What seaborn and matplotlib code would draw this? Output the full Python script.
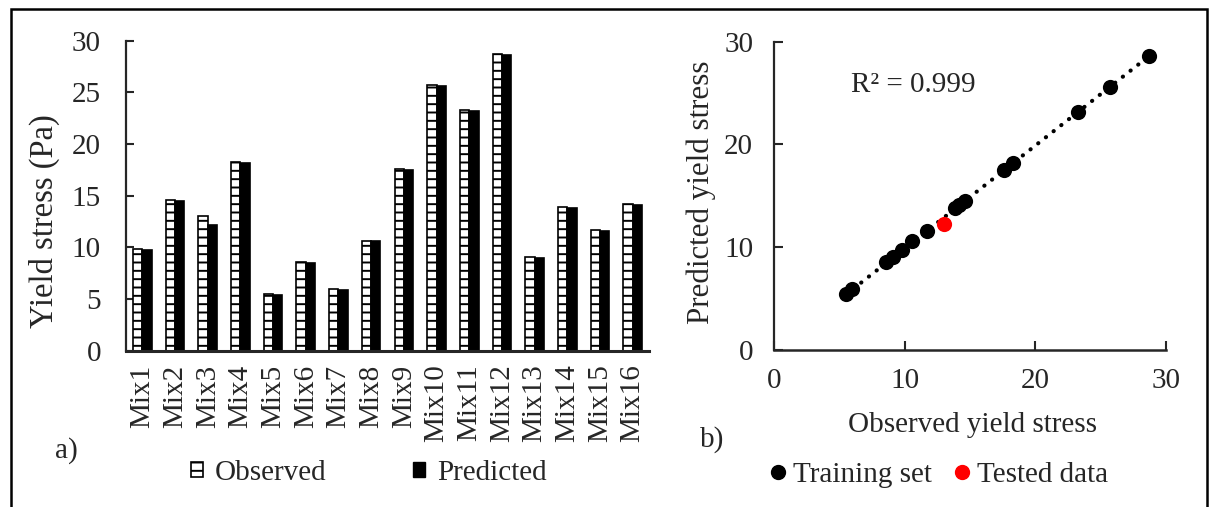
import numpy as np
import pandas as pd
import matplotlib
matplotlib.use("Agg")
import matplotlib.pyplot as plt
from matplotlib.patches import Patch, Rectangle
from matplotlib.lines import Line2D
import seaborn as sns

# ---- data ----
mixes = [f"Mix{i}" for i in range(1, 17)]
observed = [9.8, 14.6, 13.0, 18.3, 5.5, 8.6, 6.0, 10.6, 17.6, 25.7, 23.3, 28.7, 9.1, 13.9, 11.7, 14.2]
predicted = [9.7, 14.5, 12.2, 18.2, 5.4, 8.5, 5.9, 10.6, 17.5, 25.6, 23.2, 28.6, 9.0, 13.8, 11.6, 14.1]
tested_mix = "Mix3"
y_ticks = [0, 5, 10, 15, 20, 25, 30]
sc_ticks = [0, 10, 20, 30]
r2_text = "R² = 0.999"

sns.set_style("ticks")
plt.rcParams["font.family"] = ["Liberation Serif", "DejaVu Serif"]
plt.rcParams["hatch.linewidth"] = 1.4
FS = 21

fig = plt.figure(figsize=(12.09, 5.07), dpi=100)
W, H = 1209, 507

def axrect(l, t, r, b):
    return [l / W, 1 - b / H, (r - l) / W, (b - t) / H]

# ---- bar chart ----
ax1 = fig.add_axes(axrect(126, 40.7, 649, 350.7))
df = pd.DataFrame({
    "Mix": mixes * 2,
    "Type": ["Observed"] * 16 + ["Predicted"] * 16,
    "value": observed + predicted,
})
sns.barplot(data=df, x="Mix", y="value", hue="Type", palette=["white", "black"],
            edgecolor="black", linewidth=1.2, width=0.57, ax=ax1, legend=False)
for p in ax1.containers[0]:
    p.set_hatch("--")
ax1.set_ylim(0, 30)
ax1.set_xlim(-0.5, 15.5)
ax1.set_yticks(y_ticks)
ax1.set_xlabel("")
ax1.set_ylabel("Yield stress (Pa)", fontsize=23.5)
ax1.yaxis.set_label_coords(-0.126, 0.418)
ax1.tick_params(axis="y", direction="in", length=6, width=1.5, pad=18, labelsize=FS)
ax1.tick_params(axis="x", length=0, pad=10, labelsize=FS, labelrotation=90)
for lbl in ax1.get_xticklabels():
    lbl.set_va("top")
for s in ["top", "right"]:
    ax1.spines[s].set_visible(False)
ax1.spines["left"].set_linewidth(1.6)
ax1.spines["bottom"].set_linewidth(2.2)

fig.legend(handles=[Patch(facecolor="white", edgecolor="black", hatch="--", linewidth=1.2),
                    Patch(facecolor="black", edgecolor="black")],
           labels=["Observed", "Predicted"], loc="center", bbox_to_anchor=(0.305, 0.067),
           ncol=2, frameon=False, fontsize=FS, handlelength=0.4, handleheight=0.45,
           handletextpad=0.4, columnspacing=3.0)
fig.text(55 / W, 1 - 451 / H, "a)", fontsize=FS, ha="left", va="center")

# ---- scatter ----
ax2 = fig.add_axes(axrect(774, 41.7, 1165.7, 349.7))
sc = pd.DataFrame({"obs": observed, "pred": predicted, "mix": mixes})
train = sc[sc["mix"] != tested_mix]
test = sc[sc["mix"] == tested_mix]
coef = np.polyfit(sc["obs"], sc["pred"], 1)
xs = np.array([sc["obs"].min(), sc["obs"].max()])
ax2.plot(xs, np.polyval(coef, xs), color="black", linewidth=3,
         linestyle=(0, (0.05, 2.3)), dash_capstyle="round", solid_capstyle="round", zorder=1)
sns.scatterplot(data=train, x="obs", y="pred", color="black", s=120, linewidth=0, ax=ax2, zorder=2)
sns.scatterplot(data=test, x="obs", y="pred", color="#ff0000", s=120, linewidth=0, ax=ax2, zorder=3)
ax2.set_xlim(0, 30)
ax2.set_ylim(0, 30)
ax2.set_xticks(sc_ticks)
ax2.set_yticks(sc_ticks)
ax2.set_xlabel("Observed yield stress", fontsize=FS)
ax2.set_ylabel("Predicted yield stress", fontsize=22.3)
ax2.xaxis.set_label_coords(0.507, -0.202)
ax2.yaxis.set_label_coords(-0.148, 0.51)
ax2.tick_params(axis="y", direction="in", length=6.5, width=1.5, pad=15, labelsize=FS)
ax2.tick_params(axis="x", direction="in", length=6.5, width=1.5, pad=13, labelsize=FS)
for s in ["top", "right"]:
    ax2.spines[s].set_visible(False)
ax2.spines["left"].set_linewidth(1.6)
ax2.spines["bottom"].set_linewidth(1.8)
ax2.text(5.87, 25.8, r2_text, fontsize=FS, ha="left", va="center")

fig.legend(handles=[Line2D([], [], marker="o", color="black", linestyle="none", markersize=10),
                    Line2D([], [], marker="o", color="#ff0000", linestyle="none", markersize=10)],
           labels=["Training set", "Tested data"], loc="center", bbox_to_anchor=(0.777, 0.064),
           ncol=2, frameon=False, fontsize=FS, handlelength=0.5, handletextpad=0.25,
           columnspacing=0.8)
fig.text(700 / W, 1 - 440 / H, "b)", fontsize=FS, ha="left", va="center")

# ---- outer border ----
fig.patches.append(Rectangle((11 / W, -0.05), (1207 - 11) / W, 1 - 9 / H + 0.05,
                             transform=fig.transFigure, fill=False, edgecolor="black",
                             linewidth=1.8, figure=fig))

fig.savefig("out.png", dpi=100)
